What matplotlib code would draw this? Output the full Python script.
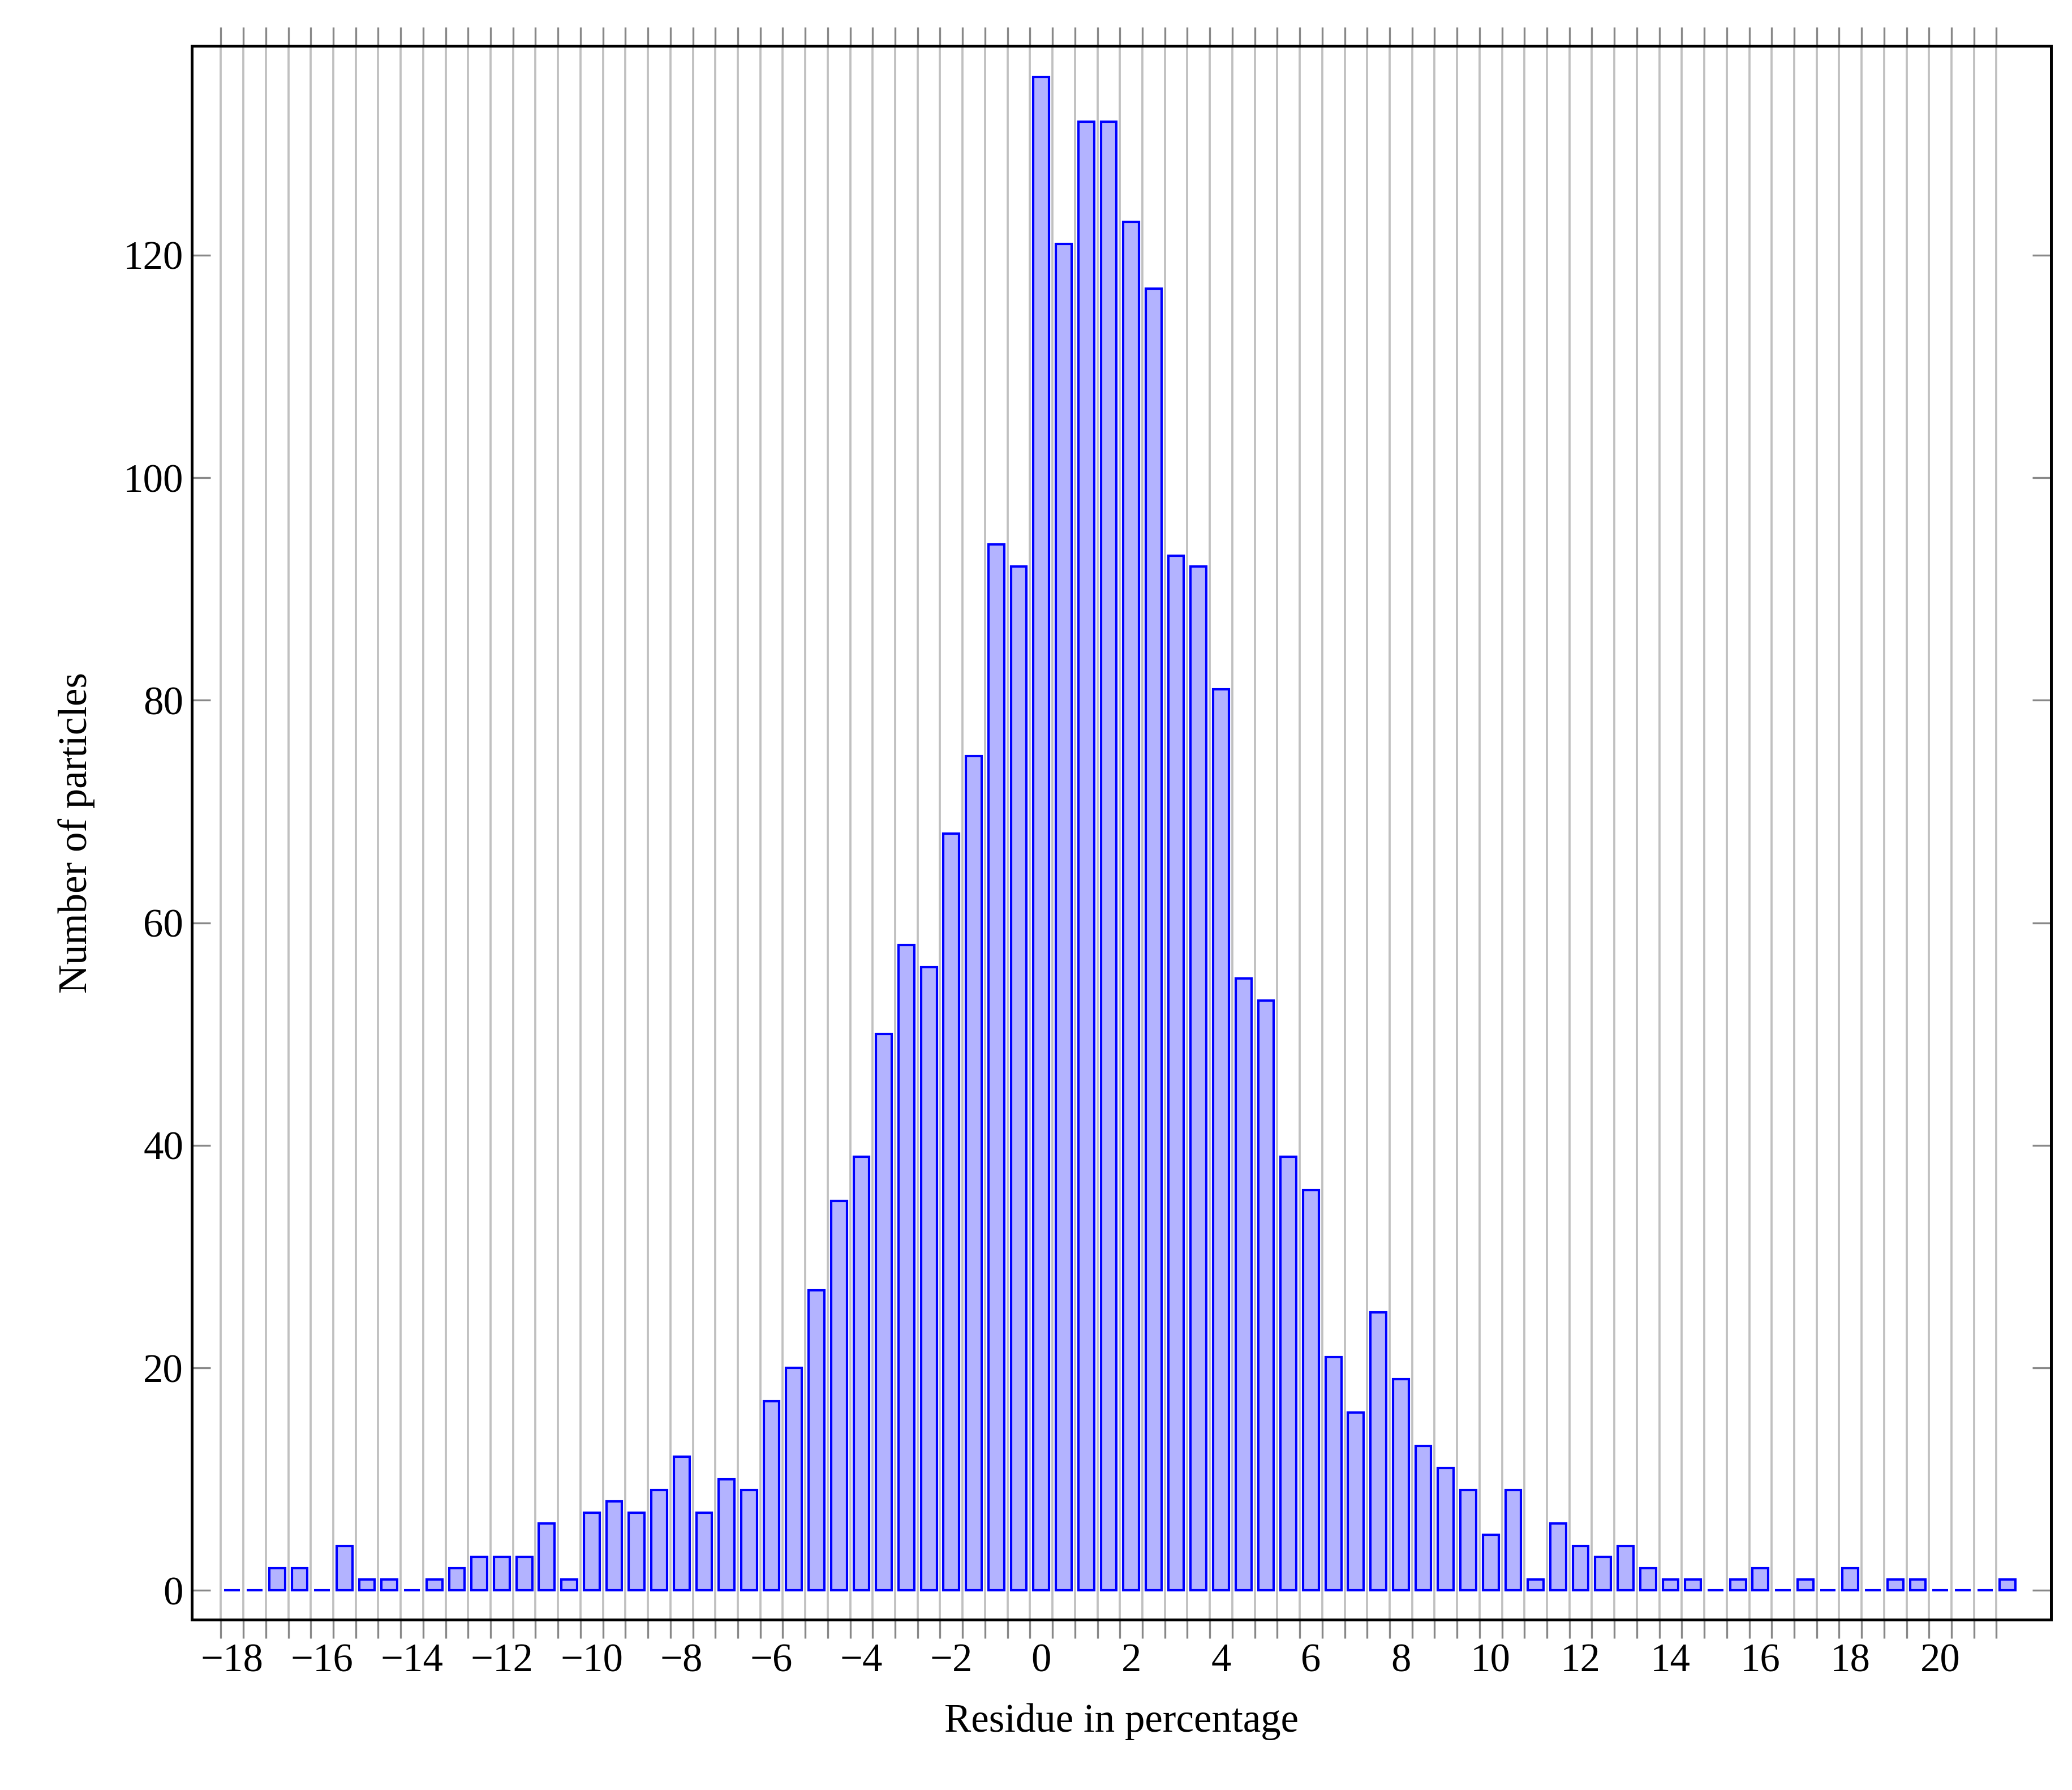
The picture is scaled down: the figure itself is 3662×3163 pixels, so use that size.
import numpy as np
import matplotlib

matplotlib.use("Agg")
import matplotlib.pyplot as plt

residue = np.arange(-18, 22, 0.5)
counts = [
    0, 0, 2, 2, 0, 4, 1, 1, 0, 1, 2, 3, 3, 3, 6, 1, 7, 8, 7, 9,
    12, 7, 10, 9, 17, 20, 27, 35, 39, 50, 58, 56, 68, 75, 94, 92, 136, 121, 132, 132,
    123, 117, 93, 92, 81, 55, 53, 39, 36, 21, 16, 25, 19, 13, 11, 9, 5, 9, 1, 6,
    4, 3, 4, 2, 1, 1, 0, 1, 2, 0, 1, 0, 2, 0, 1, 1, 0, 0, 0, 1,
]
label_ticks = list(range(-18, 21, 2))
y_ticks = [0, 20, 40, 60, 80, 100, 120]

plt.rcParams["font.family"] = ["Liberation Serif", "DejaVu Serif"]
plt.rcParams["font.size"] = 17

fig = plt.figure(figsize=(3662 / 300, 3163 / 300), dpi=300)
ax = fig.add_axes([0.0925, 0.0953, 0.8975, 0.879])

ax.bar(residue, counts, width=0.35, color="#b3b3ff", edgecolor="blue", linewidth=1.0, zorder=3)

grid_pos = residue - 0.25
ax.set_xticks(grid_pos)
ax.set_xticklabels([])
ax.tick_params(axis="x", which="major", direction="out", length=8, color="#888888",
               width=0.8, top=True, bottom=True)
ax.set_xticks(label_ticks, minor=True)
ax.set_xticklabels([str(t).replace("-", "\u2212") for t in label_ticks], minor=True)
ax.tick_params(axis="x", which="minor", length=0, pad=10)
ax.grid(axis="x", which="major", color="#c0c0c0", linewidth=0.9, zorder=0)

ax.set_yticks(y_ticks)
ax.tick_params(axis="y", direction="in", length=8, color="#888888", width=0.8,
               left=True, right=True)

ax.set_xlim(-18.9, 22.47)
ax.set_ylim(-2.6, 138.8)
for s in ax.spines.values():
    s.set_linewidth(1.2)

ax.set_xlabel("Residue in percentage", labelpad=10)
ax.set_ylabel("Number of particles", labelpad=12)

fig.savefig("out.png", dpi=300)
